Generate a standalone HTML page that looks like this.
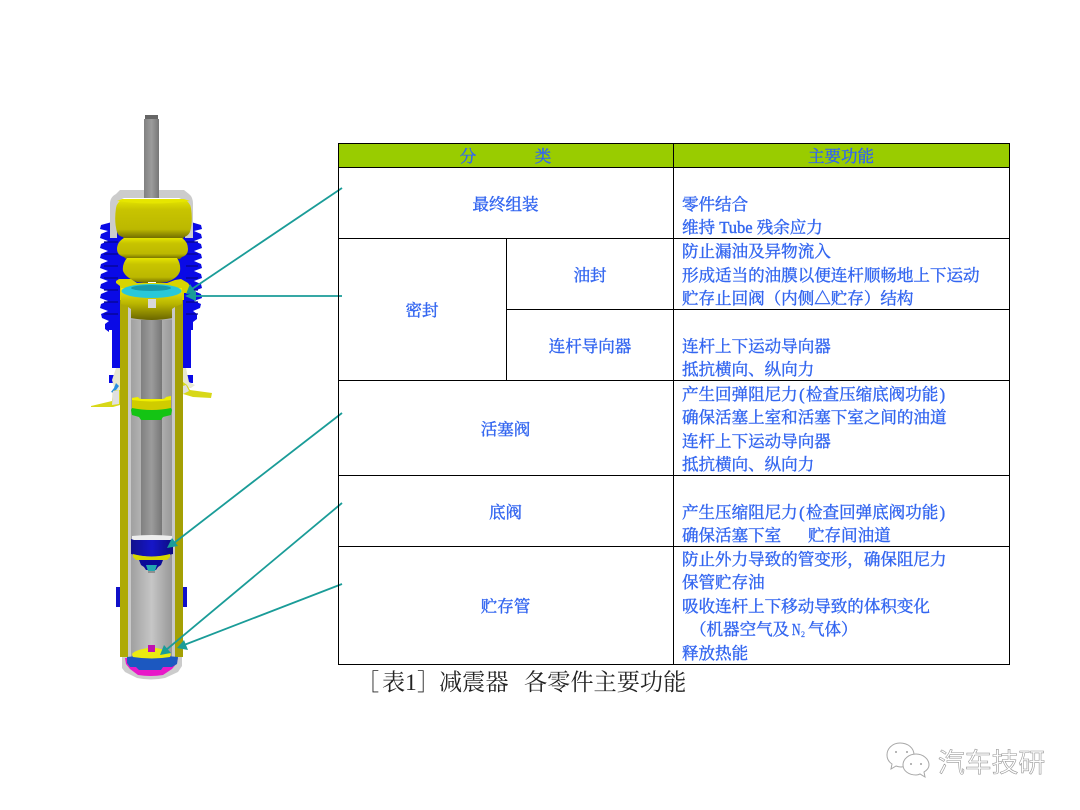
<!DOCTYPE html>
<html><head><meta charset="utf-8"><style>
html,body{margin:0;padding:0;background:#fff}
svg{display:block}
.t{font-family:"Liberation Serif","Noto Serif CJK SC",serif;font-size:16.55px;fill:#3366f0;stroke:#3366f0;stroke-width:.4px}
.c{text-anchor:middle}
.cap{font-family:"Liberation Serif","Noto Serif CJK SC",serif;font-size:23.2px;fill:#222}
</style></head><body>
<svg width="1080" height="810" viewBox="0 0 1080 810" xmlns="http://www.w3.org/2000/svg">
<defs>
<linearGradient id="v1" x1="0" x2="0" y1="0" y2="1"><stop offset="0" stop-color="#e4e400"/><stop offset=".25" stop-color="#c8c400"/><stop offset=".75" stop-color="#bcb800"/><stop offset="1" stop-color="#6a6600"/></linearGradient>
<linearGradient id="v" x1="0" x2="0" y1="0" y2="1"><stop offset="0" stop-color="#ecec10"/><stop offset=".5" stop-color="#b8b400"/><stop offset="1" stop-color="#6a6600"/></linearGradient>
<linearGradient id="g" x1="0" x2="1" y1="0" y2="0"><stop offset="0" stop-color="#808080"/><stop offset=".5" stop-color="#9c9c9c"/><stop offset="1" stop-color="#767676"/></linearGradient>
<linearGradient id="s" x1="0" x2="1" y1="0" y2="0"><stop offset="0" stop-color="#a0a0a0"/><stop offset=".5" stop-color="#c6c6c6"/><stop offset="1" stop-color="#989898"/></linearGradient>
<linearGradient id="b" x1="0" x2="1" y1="0" y2="0"><stop offset="0" stop-color="#10108c"/><stop offset=".5" stop-color="#1616c8"/><stop offset="1" stop-color="#0c0c80"/></linearGradient>
</defs>

<!-- blue bellows -->
<g fill="#0a0ae6">
<rect x="112" y="232" width="79" height="136"/>
<path d="M112 222 l-11 3 -1 4 8 2 -7 3 -1 4 8 3 -7 3 -1 4 8 3 -7 3 -1 4 8 3 -7 3 -1 4 8 3 -7 3 -1 4 8 3 -7 3 -1 4 8 3 -7 3 -1 4 8 3 -7 3 -1 4 8 3 -7 3 1 4 7 3 -4 3 0 5 4 3 V330 H112Z"/>
<path d="M191 222 l10 3 1 4 -8 2 7 3 1 4 -8 3 7 3 1 4 -8 3 7 3 1 4 -8 3 7 3 1 4 -8 3 7 3 1 4 -8 3 7 3 1 4 -8 3 7 3 1 4 -8 3 7 3 -1 4 -7 3 4 3 0 5 -4 3 V330 H191Z"/>
<path d="M109 375 v8 h11 v-8Z M183 375 h10 v8 h-10Z"/>
</g>
<g stroke="#06068c" stroke-width="1.200" fill="none">
<path d="M104 242 H118M104 254 H118M104 266 H118M104 278 H118M104 290 H118M104 302 H118M104 314 H118"/>
<path d="M186 242 H198M186 254 H198M186 266 H198M186 278 H198M186 290 H198M186 302 H198M186 314 H198"/>
</g>
<path d="M116 368 h4 v22 h-3 l-3 -3 -2 -7Z M183 368 h3 l3 14 6 3 -4 3 -8 0Z" fill="#e8e8d0"/>
<path d="M116 383 l-2 5 -3 4 3 1 5 -7Z" fill="#2a8fe0"/>
<!-- mount brackets -->
<path d="M91 406 l21 -5 1 -10 3 -1 4 0 v15 l-7 2 h-22Z" fill="#d8d818"/>
<path d="M113 391 l-1 14 7 -1 v-14Z" fill="#e0e0e0"/>
<path d="M183 382 l4 3 3 5 22 3 -1 5 -18 -1 -10 -3Z" fill="#d8d818"/>
<path d="M186 385 l3 6 -6 3 v-8Z" fill="#e0e0e0"/>

<!-- grey cap -->
<path d="M110 238 V204 q0 -7 6 -10 l4 -4 h64 l5 4 q4 3 4 10 V238 h-8 V206 q0 -6 -6 -8 H124 q-6 2 -7 8 V238Z" fill="#cccccc"/>
<!-- bump stop lobes -->
<path d="M122 200 H184 q6 2 7 8 q2 14 -1 24 q-2 4 -6 5 l-1 2 H124 l-1 -2 q-5 -1 -6 -5 q-3 -10 -1 -24 q1 -6 6 -8Z" fill="url(#v1)"/>
<path d="M124 238 H182 q6 4 6 11 q0 6 -6 8 l-2 2 H126 l-2 -2 q-7 -2 -7 -8 q0 -7 7 -11Z" fill="url(#v1)"/>
<path d="M127 258 H177 q4 6 3 13 q-2 7 -13 11 q-15 3 -30 0 q-11 -4 -14 -11 q-1 -7 4 -13Z" fill="url(#v1)"/>
<path d="M117 201 q34 5 73 0 l-6 -2 H122Z" fill="#e6e600"/>

<!-- rod -->
<rect x="145" y="115" width="13" height="5" fill="#666"/>
<rect x="144" y="119" width="15" height="79" fill="url(#g)"/>
<rect x="148" y="282" width="8" height="4" fill="#ffffff"/>

<!-- tube -->
<rect x="120" y="285" width="63" height="372" fill="url(#s)"/>
<rect x="120" y="285" width="8" height="372" fill="#aeaa06"/>
<rect x="175" y="285" width="8" height="372" fill="#a4a004"/>
<rect x="128" y="285" width="3" height="372" fill="#c8c8c8"/>
<rect x="172" y="285" width="3" height="372" fill="#c8c8c8"/>
<rect x="131" y="320" width="41" height="337" fill="url(#s)"/>
<rect x="141" y="320" width="21" height="218" fill="url(#g)"/>

<!-- top guide -->
<path d="M116 281 l3 -2 h12 l6 4 h30 l8 -3 6 -1 7 4 2 3 -3 7 -3 0 v7 H120 v-14 l-4 -3Z" fill="#d8d400"/>
<path d="M121 288 H182 V304 l-7 3 -3 2 v9 q-20 4 -41 0 v-9 l-3 -2 -7 -3Z" fill="url(#v)"/>
<ellipse cx="151.500" cy="291" rx="30" ry="7" fill="#28c8d8"/>
<ellipse cx="151" cy="288" rx="20" ry="3" fill="#189aa8"/>
<rect x="148" y="299" width="8" height="9" fill="#d8d8d8"/>

<!-- mid guide -->
<path d="M132 398 l6 -1 q1 2 4 2 h20 q3 0 4 -2 l5 -1 v13 q-20 4 -39 0Z" fill="#d0cc00"/>
<path d="M132 398 l6 -1 q1 2 4 2 h20 q3 0 4 -2 l5 -1 v4 q-20 3 -39 0Z" fill="#f0f000"/>
<path d="M132 408 q20 4 39 0 l1 2 -1 5 -8 2 -2 3 h-20 l-2 -3 -7 -2 -1 -5Z" fill="#14c414"/>

<!-- piston -->
<path d="M132 536 q20 -2 40 0 v4 q-20 4 -40 0Z" fill="#eeeeee"/>
<path d="M131 539 l3 1 h36 l3 -1 v15 q-21 5 -42 0Z" fill="url(#b)"/>
<path d="M133 554 q18 5 37 0 v3 l-3 3 h-31 l-3 -3Z" fill="#d8d800"/>
<path d="M139 560 h24 l-2 5 -3 2 -2 3 h-10 l-2 -3 -3 -2Z" fill="#0a0a98"/>
<path d="M146 565 h11 l-2 6 h-7Z" fill="#22a8b0"/>
<rect x="148" y="571" width="7" height="2" fill="#909090"/>

<!-- clips -->
<rect x="116" y="587" width="4" height="20" fill="#1010c8"/>
<rect x="183" y="587" width="4" height="20" fill="#1010c8"/>

<!-- base -->
<path d="M122 657 V668 l3 4 12 6 q14 3 28 0 l13 -6 4 -6 v-9Z" fill="#cccccc"/>
<path d="M125 658 H178 l-1 5 -5 6 -9 6 q-12 2 -25 0 l-8 -6 -4 -5Z" fill="#e818c8"/>
<path d="M127 657 q24 -3 51 0 l-1 7 -5 3 -9 0 -2 3 h-22 l-3 -3 -6 0 -3 -4Z" fill="#1c58c0"/>
<path d="M132 654 q3 -4 16 -6 h8 q12 2 15 6 l-1 3 q-18 3 -37 0Z" fill="#eaea10"/>
<rect x="148" y="645" width="7" height="7" fill="#c010b0"/>

<!-- arrows -->
<g stroke="#1a9c98" stroke-width="1.800" fill="none">
<line x1="342" y1="188" x2="192" y2="289"/>
<line x1="342" y1="296" x2="194" y2="296"/>
<line x1="342" y1="413" x2="174" y2="543"/>
<line x1="342" y1="503" x2="166" y2="650"/>
<line x1="342" y1="584" x2="184" y2="645"/>
</g>
<g fill="#1a9c98">
<path d="M186 294 l4 -10 6 9Z"/>
<path d="M185 296 l11 -5 v10Z"/>
<path d="M167 548 l5 -10 6 8Z"/>
<path d="M160 655 l4 -10 7 8Z"/>
<path d="M177 648 l7 -8 4 10Z"/>
</g>

<!-- table -->
<rect x="338.500" y="143.500" width="671" height="24" fill="#99cc00"/>
<g stroke="#000" stroke-width="1" fill="none" shape-rendering="crispEdges">
<rect x="338.500" y="143.500" width="671" height="521"/>
<path d="M338 167.500H1010M338 238.500H1010M506 309.500H1010M338 380.500H1010M338 475.500H1010M338 546.500H1010M673.500 143V665M506.500 238V380"/>
</g>

<g class="t c" transform="translate(0,1)">
<text x="468" y="161">分</text><text x="543" y="161">类</text>
<text x="841" y="161">主要功能</text>
<text x="505.500" y="209">最终组装</text>
<text x="422" y="315">密封</text>
<text x="590" y="280">油封</text>
<text x="590" y="351">连杆导向器</text>
<text x="505.500" y="434">活塞阀</text>
<text x="505.500" y="517">底阀</text>
<text x="505.500" y="611">贮存管</text>
</g>
<g class="t" transform="translate(0,1)">
<text x="682" y="209">零件结合</text>
<text x="682" y="232">维持 Tube 残余应力</text>
<text x="682" y="256">防止漏油及异物流入</text>
<text x="682" y="280">形成适当的油膜以便连杆顺畅地上下运动</text>
<text x="682" y="303">贮存止回阀（内侧△贮存）结构</text>
<text x="682" y="351">连杆上下运动导向器</text>
<text x="682" y="374">抵抗横向、纵向力</text>
<text x="682" y="399">产生回弹阻尼力<tspan dx="1.400">(</tspan><tspan dx="1.400">检查压缩底阀功能</tspan><tspan dx="1.400">)</tspan></text>
<text x="682" y="422">确保活塞上室和活塞下室之间的油道</text>
<text x="682" y="446">连杆上下运动导向器</text>
<text x="682" y="469">抵抗横向、纵向力</text>
<text x="682" y="517">产生压缩阻尼力<tspan dx="1.400">(</tspan><tspan dx="1.400">检查回弹底阀功能</tspan><tspan dx="1.400">)</tspan></text>
<text x="682" y="540">确保活塞下室</text>
<text x="808" y="540">贮存间油道</text>
<text x="682" y="564">防止外力导致的管变形，确保阻尼力</text>
<text x="682" y="587">保管贮存油</text>
<text x="682" y="611">吸收连杆上下移动导致的体积变化</text>
<text x="690" y="634">（机器空气及</text>
<text x="792" y="634" textLength="8.500" lengthAdjust="spacingAndGlyphs">N</text>
<text x="801" y="636" style="font-size:8px;stroke-width:.2px">2</text>
<text x="808" y="634">气体）</text>
<text x="682" y="658">释放热能</text>
</g>

<text class="cap" x="356" y="690">［</text>
<text class="cap" x="382" y="690">表1</text>
<text class="cap" x="417" y="690">］</text>
<text class="cap" x="439" y="690">减震器</text>
<text class="cap" x="524" y="690">各零件主要功能</text>

<!-- watermark -->
<g fill="#fff" stroke="#a8a8a8" stroke-width="1">
<path d="M900 743 c-8 0 -13 6 -13 12 0 4 2 7 5 9 l-1 5 5 -3 q3 1 5 1 c8 0 13 -6 13 -12 0 -7 -6 -12 -14 -12Z"/>
<path d="M916 754 c-7 0 -13 5 -13 11 0 6 6 10 13 10 q2 0 4 -1 l5 3 -1 -5 q5 -3 5 -7 c0 -6 -6 -11 -13 -11Z"/>
</g>
<g fill="#a0a0a0"><circle cx="896" cy="752" r="1"/><circle cx="907" cy="752" r="1"/><circle cx="911" cy="764" r="1"/><circle cx="921" cy="764" r="1"/></g>
<text x="938" y="772" font-family="'Liberation Sans','Noto Sans CJK SC',sans-serif" font-size="26.800px" fill="#fff" stroke="#999" stroke-width=".6">汽车技研</text>
</svg>
</body></html>
